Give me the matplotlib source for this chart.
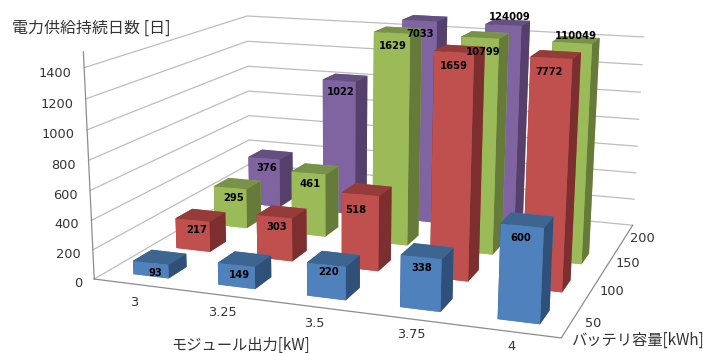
import numpy as np
import matplotlib
matplotlib.use('Agg')
import matplotlib.pyplot as plt
from mpl_toolkits.mplot3d import proj3d

plt.rcParams['font.family'] = ['DejaVu Sans', 'Noto Sans CJK JP']

power_labels = ['3', '3.25', '3.5', '3.75', '4']
capacity_labels = ['50', '100', '150', '200']
day_ticks = [0, 200, 400, 600, 800, 1000, 1200, 1400]

days_50 = [93, 149, 220, 338, 600]
days_100 = [217, 303, 518, 1659, 7772]
days_150 = [295, 461, 1629, 10799, 110049]
days_200 = [376, 1022, 7033, 124009, None]
series = [days_50, days_100, days_150, days_200]

# bottom, top, front, back, left, right faces
blue = ['#4f81bd', '#3c6590', '#4f81bd', '#4f81bd', '#2f5078', '#2f5078']
red = ['#c0504d', '#953c3a', '#c0504d', '#c0504d', '#7c2f2e', '#7c2f2e']
green = ['#9bbb59', '#78924a', '#9bbb59', '#9bbb59', '#667a3a', '#667a3a']
purple = ['#8064a2', '#64507f', '#8064a2', '#8064a2', '#55406c', '#55406c']
series_colors = [blue, red, green, purple]

z_top = 1500
n_x = len(power_labels)
n_y = len(capacity_labels)
bar_w = 0.42
bar_d = 0.42
bar_shift = 0.02

W, H = 703, 353
fig = plt.figure(figsize=(W / 100, H / 100), dpi=100)
# 3d axes are always square, so use a square larger than the figure
ax = fig.add_axes([0, (H - W) / 2 / H, 1, W / H], projection='3d', computed_zorder=False)
ax.set_axis_off()
ax.set_xticks([])
ax.set_yticks([])
ax.set_zticks([])


def fit_camera(world, pixels):
    # direct linear fit of a pinhole camera from known points of the box
    rows = []
    for (x, y, z), (u, v) in zip(world, pixels):
        rows.append([x, y, z, 1, 0, 0, 0, 0, -u * x, -u * y, -u * z, -u])
        rows.append([0, 0, 0, 0, x, y, z, 1, -v * x, -v * y, -v * z, -v])
    p = np.linalg.svd(np.array(rows, dtype=float))[2][-1].reshape(3, 4)
    if p[2] @ [2.5, 2, 500, 1] < 0:
        p = -p
    return p


box_points = [(0, 0, 0), (0, 0, 1400), (0, 0, 400), (0, 4, 0), (0, 4, 1400), (0, 4, 400),
              (5, 4, 0), (5, 4, 1400), (5, 4, 400), (5, 0, 0)]
box_pixels = [(94, 279), (83, 67), (93, 221), (249, 187), (248, 16), (249, 141),
              (633, 225), (643, 37), (636, 173), (561, 338)]
cam = fit_camera(box_points, box_pixels)

# pixel position -> 2d coordinates of the axes
lim = ax.viewLim
to_view = np.array([[(lim.x1 - lim.x0) / W, 0, lim.x0],
                    [0, (lim.y0 - lim.y1) / W, lim.y1 - (lim.y1 - lim.y0) * ((W - H) / 2) / W],
                    [0, 0, 1]])
cam_view = to_view @ cam
M = np.vstack([cam_view[:2], [0, 0, 0, -1], cam_view[2]])
ax.get_proj = lambda: M


def label3d(x, y, z, text, **kw):
    # plain 2d text at the projected position of a 3d point
    tx, ty, _ = proj3d.proj_transform(x, y, z, M)
    return ax.text2D(tx, ty, text, transform=ax.transData, **kw)


grid_kw = dict(color='#bdbdbd', lw=0.9, zorder=1)
axis_kw = dict(color='#8c8c8c', lw=0.9, zorder=1)
for z in day_ticks:
    ax.plot([0, 0, n_x], [0, n_y, n_y], [z, z, z], **grid_kw)
ax.plot([0, n_x, n_x], [0, 0, n_y], [0, 0, 0], **axis_kw)
ax.plot([0, 0], [0, 0], [0, z_top], **axis_kw)

# value labels sit on the front of the bar, a few move off it (sideways, upward)
label_drop = 115
label_side = -0.06
label_nudge = {110049: (0.05, 140), 124009: (0.08, 155), 10799: (0.04, 0), 518: (-0.07, -35),
               220: (0, 25)}

order = 2
for j in range(n_y - 1, -1, -1):
    for i in range(n_x):
        v = series[j][i]
        if v is None:
            continue
        h = min(v, z_top)
        cx = i + 0.5 + bar_shift
        cy = j + 0.5
        bars = ax.bar3d(cx - bar_w / 2, cy - bar_d / 2, 0, bar_w, bar_d, h,
                        color=series_colors[j], shade=False)
        bars.set_edgecolor('none')
        bars.set_zorder(order)
        order += 1
        dx, dz = label_nudge.get(v, (0, 0))
        label3d(cx + label_side + dx, cy, h - label_drop + dz, str(v), ha='center', va='center',
                fontsize=7.2, fontweight='bold', color='black', zorder=100)

tick_kw = dict(fontsize=9.3, color='#333333', zorder=100)
for z in day_ticks:
    label3d(-0.15, 0, z - 40, str(z), ha='right', va='center', **tick_kw)
for i, label in enumerate(power_labels):
    label3d(0.72 + 0.97 * i, -0.45 + 0.035 * i, -15, label, ha='center', va='center', **tick_kw)
for j, label in enumerate(capacity_labels):
    label3d(n_x + 0.2, j + 0.5, 0, label, ha='center', va='center', **tick_kw)

label_font = ['Noto Sans CJK JP', 'DejaVu Sans']
fig.text(12 / W, 1 - 28 / H, '電力供給持続日数 [日]', fontsize=11.5, color='#333333',
         family=label_font, ha='left', va='center')
fig.text(241 / W, 1 - 345 / H, 'モジュール出力[kW]', fontsize=11, color='#333333',
         family=label_font, ha='center', va='center')
fig.text(637 / W, 1 - 340 / H, 'バッテリ容量[kWh]', fontsize=11, color='#333333',
         family=label_font, ha='center', va='center')

fig.savefig('out.png', dpi=100)
